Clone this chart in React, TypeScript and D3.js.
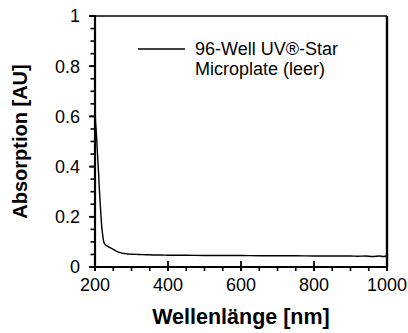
import React from "react";
import * as d3 from "d3";

// Absorption spectrum of an empty 96-well UV-Star microplate
const wavelengths = [
  200, 201, 203, 205, 208, 210, 212, 214, 216, 218, 220, 222, 224, 226, 228,
  232, 236, 240, 245, 250, 255, 260, 265, 270, 275, 280, 290, 300, 320, 340,
  360, 380, 400, 450, 500, 550, 600, 650, 700, 750, 800, 850, 900, 920, 940,
  960, 980, 990, 1000,
];
const absorbance = [
  0.72, 0.6, 0.55, 0.5, 0.42, 0.37, 0.31, 0.26, 0.21, 0.17, 0.14, 0.118, 0.1,
  0.093, 0.089, 0.085, 0.081, 0.078, 0.074, 0.07, 0.066, 0.062, 0.059, 0.057,
  0.055, 0.054, 0.052, 0.051, 0.05, 0.049, 0.048, 0.048, 0.047, 0.047, 0.046,
  0.046, 0.046, 0.045, 0.045, 0.045, 0.044, 0.044, 0.044, 0.043, 0.044, 0.042,
  0.044, 0.042, 0.044,
];

const xTicks = [200, 400, 600, 800, 1000];
const yTicks = [0, 0.2, 0.4, 0.6, 0.8, 1];
const xMinor = d3.range(200, 1001, 50);
const yMinor = d3.range(0, 1.001, 0.05);

const legendLines = ["96-Well UV®-Star", "Microplate (leer)"];
const xTitle = "Wellenlänge [nm]";
const yTitle = "Absorption [AU]";

const W = 408;
const H = 333;
const left = 95;
const right = 387;
const top = 16;
const bottom = 267;
const font = "'Liberation Sans', Arial, sans-serif";

export default function App() {
  const x = d3.scaleLinear().domain([200, 1000]).range([left, right]);
  const y = d3.scaleLinear().domain([0, 1]).range([bottom, top]);
  const line = d3
    .line<number>()
    .x((_, i) => x(wavelengths[i]))
    .y((d) => y(d))
    .curve(d3.curveMonotoneX);

  return (
    <svg
      width={W}
      height={H}
      style={{ position: "absolute", left: 0, top: 0, background: "#fff" }}
    >
      <rect width={W} height={H} fill="#fff" />
      {/* spectrum */}
      <path d={line(absorbance) ?? ""} fill="none" stroke="#000" strokeWidth={1.4} />

      {/* frame */}
      <line x1={left} x2={right} y1={top} y2={top} stroke="#000" strokeWidth={1.6} />
      <line x1={right} x2={right} y1={top} y2={bottom} stroke="#000" strokeWidth={2.4} />
      <line x1={left} x2={left} y1={top - 0.8} y2={bottom + 1} stroke="#000" strokeWidth={2.2} />
      <line x1={left - 1} x2={right + 1} y1={bottom} y2={bottom} stroke="#000" strokeWidth={2.2} />

      {/* x ticks */}
      {xMinor.map((v) => (
        <line key={"xm" + v} x1={x(v)} x2={x(v)} y1={bottom} y2={bottom + 4} stroke="#000" strokeWidth={1.6} />
      ))}
      {xTicks.map((v) => (
        <g key={"xt" + v}>
          <line x1={x(v)} x2={x(v)} y1={bottom - 6} y2={bottom + 4} stroke="#000" strokeWidth={1.8} />
          <text x={x(v)} y={291} textAnchor="middle" fontFamily={font} fontSize={18}>
            {v}
          </text>
        </g>
      ))}

      {/* y ticks */}
      {yMinor.map((v) => (
        <line key={"ym" + v.toFixed(2)} x1={left - 4.5} x2={left} y1={y(v)} y2={y(v)} stroke="#000" strokeWidth={1.6} />
      ))}
      {yTicks.map((v) => (
        <g key={"yt" + v}>
          <line x1={left - 6} x2={left + 1} y1={y(v)} y2={y(v)} stroke="#000" strokeWidth={1.8} />
          <text x={80} y={y(v) + 6.4} textAnchor="end" fontFamily={font} fontSize={18}>
            {d3.format("~g")(v)}
          </text>
        </g>
      ))}

      {/* legend */}
      <line x1={138} x2={185} y1={49} y2={49} stroke="#000" strokeWidth={1.4} />
      {legendLines.map((t, i) => (
        <text key={t} x={195} y={55 + i * 19.5} fontFamily={font} fontSize={18}>
          {t}
        </text>
      ))}

      {/* axis titles */}
      <text x={(left + right) / 2} y={324} textAnchor="middle" fontFamily={font} fontSize={21.5} fontWeight="bold">
        {xTitle}
      </text>
      <text
        transform={`translate(27,${(top + bottom) / 2}) rotate(-90)`}
        textAnchor="middle"
        fontFamily={font}
        fontSize={20}
        fontWeight="bold"
      >
        {yTitle}
      </text>
    </svg>
  );
}
